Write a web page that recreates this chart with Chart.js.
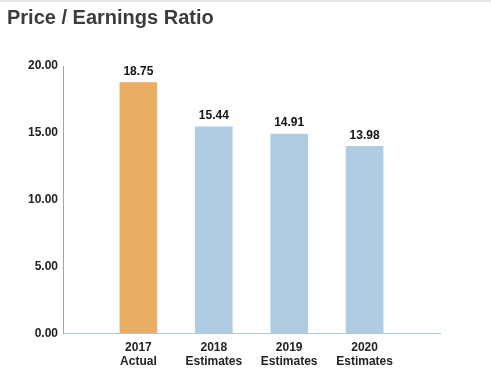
<!DOCTYPE html>
<html>
<head>
<meta charset="utf-8">
<script src="https://cdn.jsdelivr.net/npm/chart.js@4.4.0/dist/chart.umd.min.js"></script>
<style>
  html, body { margin: 0; padding: 0; background: #fff; }
  #wrap { width: 491px; height: 392px; position: relative; border-top: 2px solid #e4e4e4; box-sizing: border-box; }
</style>
</head>
<body>
<div id="wrap"><canvas id="myChart" width="491" height="390"></canvas></div>
<script>
var categories = [["2017", "Actual"], ["2018", "Estimates"], ["2019", "Estimates"], ["2020", "Estimates"]];
var peValues = [18.75, 15.44, 14.91, 13.98];
var yTicks = [0, 5, 10, 15, 20];

var barColors = ['#e9ae63', '#b0cce3', '#b0cce3', '#b0cce3'];

// value labels above each bar
var valueLabels = {
    id: 'valueLabels',
    afterDatasetsDraw: function (chart) {
        var c = chart.ctx;
        var meta = chart.getDatasetMeta(0);
        c.save();
        c.font = 'bold 12px "Liberation Sans", Arial, sans-serif';
        c.fillStyle = '#111';
        c.textAlign = 'center';
        c.textBaseline = 'bottom';
        meta.data.forEach(function (bar, i) {
            var v = chart.data.datasets[0].data[i];
            if (v == null) return;
            c.fillText(v.toFixed(2), bar.x, bar.y - 5);
        });
        c.restore();
    }
};

var ctx = document.getElementById('myChart').getContext('2d');
var chart = new Chart(ctx, {
    type: 'bar',
    data: {
        labels: [''].concat(categories, ['']),
        datasets: [{
            data: [null].concat(peValues, [null]),
            backgroundColor: [null].concat(barColors, [null]),
            barThickness: 37,
            borderWidth: 0
        }]
    },
    options: {
        responsive: false,
        animation: false,
        layout: { padding: { left: 7, right: 51, top: 0, bottom: 16 } },
        plugins: {
            legend: { display: false },
            tooltip: { enabled: false },
            title: {
                display: true,
                text: 'Price / Earnings Ratio',
                align: 'start',
                color: '#3c3c3c',
                font: { family: '"Liberation Sans", Arial, sans-serif', size: 20, weight: 'bold' },
                padding: { top: 4, bottom: 36 }
            }
        },
        scales: {
            x: {
                offset: false,
                grid: { display: false, drawTicks: false },
                border: { color: '#a9c9dd', width: 1 },
                ticks: {
                    autoSkip: false,
                    maxRotation: 0,
                    padding: 7,
                    color: '#222',
                    font: { family: '"Liberation Sans", Arial, sans-serif', size: 12, weight: 'bold' }
                }
            },
            y: {
                min: yTicks[0],
                max: yTicks[yTicks.length - 1],
                afterBuildTicks: function (axis) {
                    axis.ticks = yTicks.map(function (v) { return { value: v }; });
                },
                afterFit: function (axis) { axis.width = 56; },
                grid: { display: false, drawTicks: false },
                border: { color: '#b49aac', width: 1 },
                ticks: {
                    padding: 5,
                    color: '#222',
                    font: { family: '"Liberation Sans", Arial, sans-serif', size: 12, weight: 'bold' },
                    callback: function (v) { return v.toFixed(2); }
                }
            }
        }
    },
    plugins: [valueLabels]
});
</script>
</body>
</html>
